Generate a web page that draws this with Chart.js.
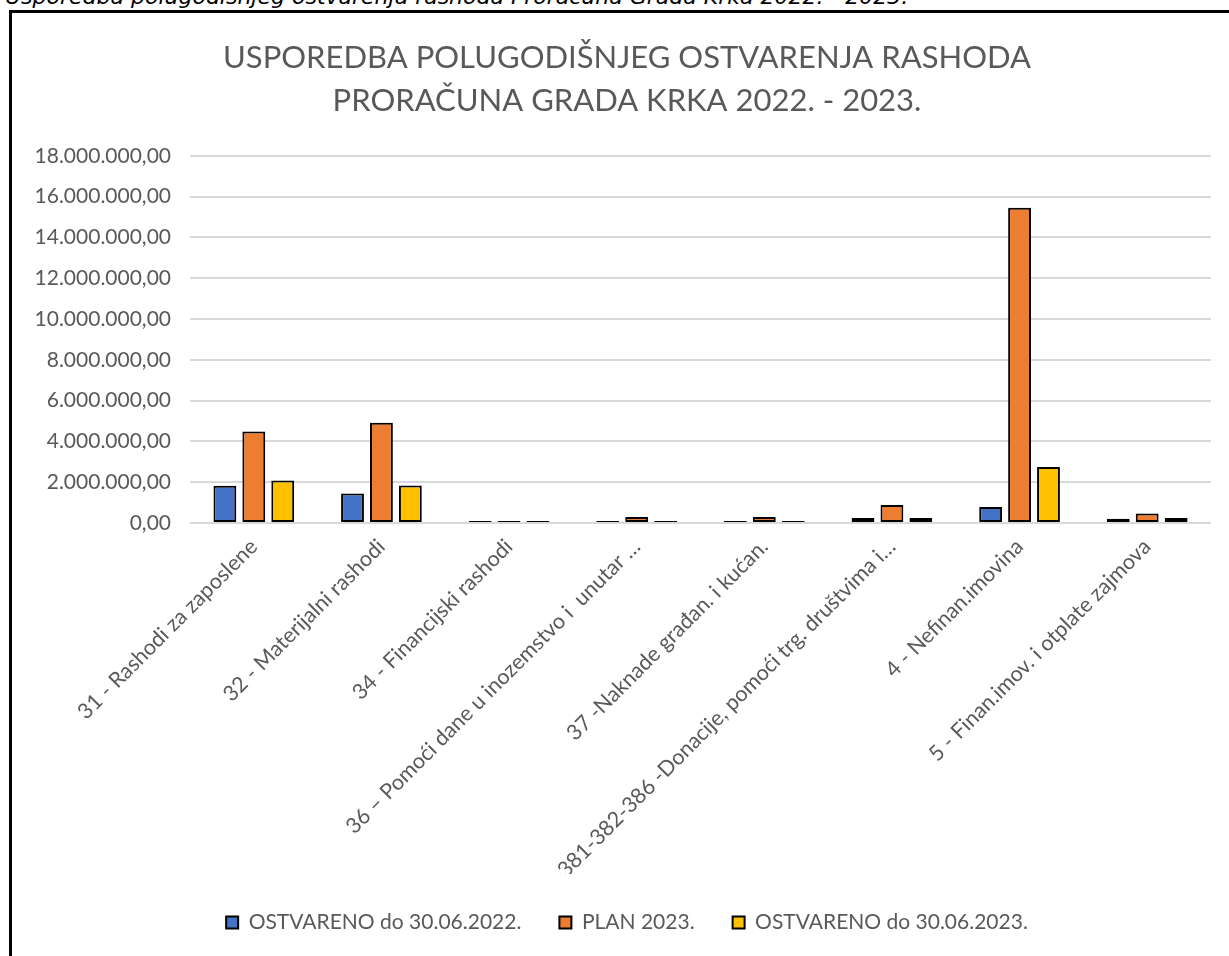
<!DOCTYPE html>
<html>
<head>
<meta charset="utf-8">
<script src="https://cdn.jsdelivr.net/npm/chart.js@4"></script>
<style>
  body { margin: 0; background: #fff; overflow: hidden; width: 1229px; height: 956px; position: relative; }
  #cap { position: absolute; left: 5px; top: -14px; font: italic 22px "DejaVu Sans"; line-height: 22px; white-space: nowrap; color: #000; }
  #box { position: absolute; left: 9px; top: 10px; width: 1260px; height: 1000px; border: 3px solid #000; background: #fff; }
  #wrap { position: absolute; left: 0; top: 0; width: 1230px; height: 960px; }
</style>
</head>
<body>
<div id="cap">Usporedba polugodišnjeg ostvarenja rashoda Proračuna Grada Krka 2022. - 2023.</div>
<div id="box">
  <div id="wrap"><canvas id="rashodiChart"></canvas></div>
</div>
<script>
const categories = [
    "31 - Rashodi za zaposlene",
    "32 - Materijalni rashodi",
    "34 - Financijski rashodi",
    "36 – Pomoći dane u inozemstvo i  unutar …",
    "37 -Naknade građan. i kućan.",
    "381-382-386 -Donacije, pomoći trg. društvima i…",
    "4 - Nefinan.imovina",
    "5 - Finan.imov. i otplate zajmova"
];
const ostvareno2022 = [1820000, 1440000, 30000, 80000, 80000, 250000, 790000, 210000];
const plan2023 = [4480000, 4920000, 30000, 290000, 290000, 880000, 15450000, 460000];
const ostvareno2023 = [2080000, 1840000, 30000, 80000, 80000, 250000, 2740000, 250000];
const seriesNames = ["OSTVARENO do 30.06.2022.", "PLAN 2023.", "OSTVARENO do 30.06.2023."];
const titleLines = ["USPOREDBA POLUGODIŠNJEG OSTVARENJA RASHODA", "PRORAČUNA GRADA KRKA 2022. - 2023."];

// 18000000 -> "18.000.000,00"
function fmt(v) {
    const s = Math.round(v).toString().replace(/\B(?=(\d{3})+(?!\d))/g, ".");
    return s + ",00";
}

const grey = "#595959";
const fontName = "Lato";

function bars(label, data, color) {
    return {
        label: label,
        data: data,
        backgroundColor: color,
        borderColor: "#000",
        borderWidth: 2,
        borderSkipped: false,
        minBarLength: 2,
        categoryPercentage: 0.68,
        barPercentage: 0.79
    };
}

new Chart(document.getElementById("rashodiChart").getContext("2d"), {
    type: "bar",
    data: {
        labels: categories,
        datasets: [
            bars(seriesNames[0], ostvareno2022, "#4472C4"),
            bars(seriesNames[1], plan2023, "#ED7D31"),
            bars(seriesNames[2], ostvareno2023, "#FFC000")
        ]
    },
    options: {
        responsive: true,
        maintainAspectRatio: false,
        animation: false,
        layout: { padding: { left: 0, right: 0, top: 0, bottom: 30 } },
        plugins: {
            title: {
                display: true,
                text: titleLines,
                color: grey,
                font: { family: fontName, size: 31, weight: "normal", lineHeight: 1.4 },
                padding: { top: 23, bottom: 33 }
            },
            legend: {
                position: "bottom",
                labels: {
                    color: grey,
                    font: { family: fontName, size: 21 },
                    boxWidth: 12,
                    boxHeight: 12,
                    padding: 38
                }
            },
            tooltip: { enabled: false }
        },
        scales: {
            x: {
                grid: { display: false },
                border: { display: false },
                ticks: {
                    color: grey,
                    font: { family: fontName, size: 21.5 },
                    maxRotation: 45,
                    minRotation: 45,
                    autoSkip: false
                },
                afterFit: (scale) => { scale.height = 351; }
            },
            y: {
                min: 0,
                max: 18000000,
                grid: { color: "#d9d9d9", lineWidth: 2, drawTicks: false },
                border: { display: false },
                ticks: {
                    stepSize: 2000000,
                    color: grey,
                    font: { family: fontName, size: 21 },
                    padding: 19,
                    callback: (v) => fmt(v)
                },
                afterFit: (scale) => { scale.width = 178; }
            },
            // empty right-hand axis, only keeps the plot off the right edge
            spacer: {
                position: "right",
                grid: { display: false },
                border: { display: false },
                ticks: { display: false },
                afterFit: (scale) => { scale.width = 31; }
            }
        }
    }
});
</script>
</body>
</html>
